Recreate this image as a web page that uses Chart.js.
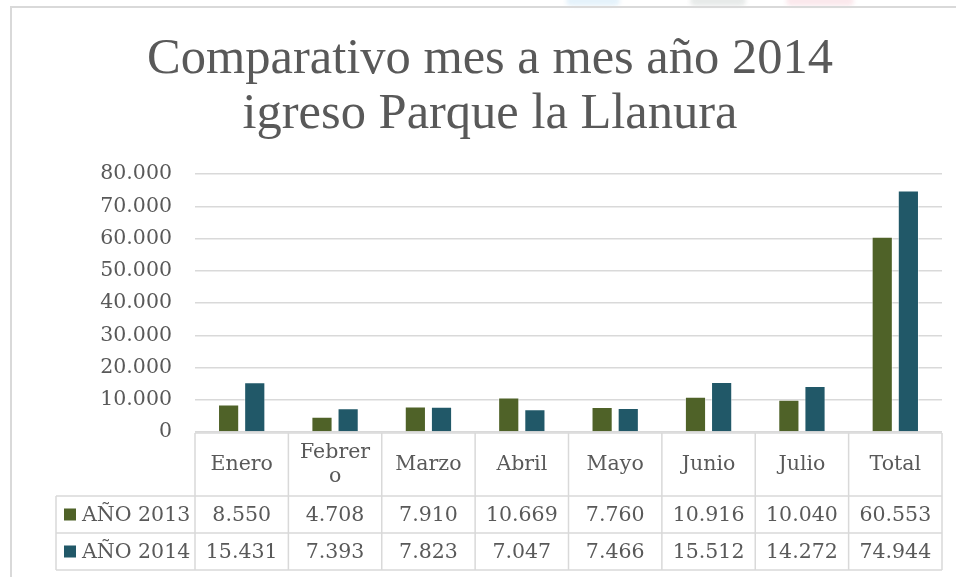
<!DOCTYPE html>
<html>
<head>
<meta charset="utf-8">
<script src="https://cdn.jsdelivr.net/npm/chart.js@4/dist/chart.umd.min.js"></script>
<style>
  html, body { margin: 0; padding: 0; background: #fff; }
  #wrap { position: relative; width: 956px; height: 577px; overflow: hidden; }
  #frame { position: absolute; left: 10px; top: 6px; width: 960px; height: 580px;
           border-top: 2px solid #d9d9d9; border-left: 2px solid #d9d9d9; }
  .blob { position: absolute; top: -4px; height: 10px; border-radius: 6px; filter: blur(2px); }
  canvas { position: absolute; left: 0; top: 0; }
</style>
</head>
<body>
<div id="wrap">
  <div class="blob" style="left:566px;width:54px;background:#e4f2fb"></div>
  <div class="blob" style="left:690px;width:56px;background:#e7eae9"></div>
  <div class="blob" style="left:786px;width:68px;background:#fbe8ec"></div>
  <div id="frame"></div>
  <canvas id="chart" width="956" height="577"></canvas>
</div>
<script>
// data
var categories = ['Enero', ['Febrer', 'o'], 'Marzo', 'Abril', 'Mayo', 'Junio', 'Julio', 'Total'];
var anio2013 = [8550, 4708, 7910, 10669, 7760, 10916, 10040, 60553];
var anio2014 = [15431, 7393, 7823, 7047, 7466, 15512, 14272, 74944];
var seriesNames = ['AÑO 2013', 'AÑO 2014'];
var titleLines = ['Comparativo mes a mes año 2014', 'igreso Parque la Llanura'];

var green = '#4f6228';
var blue = '#215868';
var textColor = '#595959';
var lineColor = '#d9d9d9';
var serif = '"DejaVu Serif", "Liberation Serif", serif';

function fmt(v) {
    return String(v).replace(/\B(?=(\d{3})+(?!\d))/g, '.');
}

// Excel style data table under the plot, laid out from the x scale
var dataTable = {
    id: 'dataTable',
    afterDraw: function(chart) {
        var ctx = chart.ctx;
        var area = chart.chartArea;
        var n = categories.length;
        var cw = (area.right - area.left) / n;
        var legendLeft = 56;
        var y0 = area.bottom + 1, y1 = y0 + 63, y2 = y1 + 37, y3 = y2 + 37;

        ctx.save();
        ctx.strokeStyle = lineColor;
        ctx.lineWidth = 1.5;
        ctx.beginPath();
        ctx.moveTo(area.left, y0); ctx.lineTo(area.right, y0);
        [y1, y2, y3].forEach(function(y) {
            ctx.moveTo(legendLeft, y); ctx.lineTo(area.right, y);
        });
        ctx.moveTo(legendLeft, y1); ctx.lineTo(legendLeft, y3);
        for (var i = 0; i <= n; i++) {
            var bx = area.left + i * cw;
            ctx.moveTo(bx, y0); ctx.lineTo(bx, y3);
        }
        ctx.stroke();

        ctx.fillStyle = textColor;
        ctx.font = '20.5px ' + serif;
        ctx.textAlign = 'center';
        ctx.textBaseline = 'middle';
        var xs = chart.scales.x;
        var rows = [anio2013, anio2014];
        categories.forEach(function(label, i) {
            var cx = xs.getPixelForValue(i);
            var hy = (y0 + y1) / 2;
            if (Array.isArray(label)) {
                ctx.fillText(label[0], cx, hy - 12);
                ctx.fillText(label[1], cx, hy + 12);
            } else {
                ctx.fillText(label, cx, hy);
            }
            ctx.fillText(fmt(rows[0][i]), cx, (y1 + y2) / 2 + 1);
            ctx.fillText(fmt(rows[1][i]), cx, (y2 + y3) / 2 + 1);
        });

        // legend keys in the first column
        ctx.textAlign = 'left';
        [[y1, y2], [y2, y3]].forEach(function(r, k) {
            var cy = (r[0] + r[1]) / 2;
            ctx.fillStyle = k === 0 ? green : blue;
            ctx.fillRect(64, cy - 6, 12, 12);
            ctx.fillStyle = textColor;
            ctx.fillText(seriesNames[k], 82, cy + 1);
        });
        ctx.restore();
    }
};

new Chart(document.getElementById('chart'), {
    type: 'bar',
    data: {
        labels: categories,
        datasets: [
            {
                label: seriesNames[0],
                data: anio2013,
                backgroundColor: green,
                borderColor: 'rgba(255,255,255,0.5)',
                borderWidth: 1,
                categoryPercentage: 0.56,
                barPercentage: 0.81
            },
            {
                label: seriesNames[1],
                data: anio2014,
                backgroundColor: blue,
                borderColor: 'rgba(255,255,255,0.5)',
                borderWidth: 1,
                categoryPercentage: 0.56,
                barPercentage: 0.81
            }
        ]
    },
    options: {
        responsive: false,
        animation: false,
        devicePixelRatio: 1,
        layout: {
            padding: { left: 38, right: 14, top: 0, bottom: 7 }
        },
        plugins: {
            legend: { display: false },
            tooltip: { enabled: false },
            title: {
                display: true,
                text: titleLines,
                color: textColor,
                font: { family: '"Liberation Serif", serif', size: 50.5, weight: 'normal', lineHeight: 1.09 },
                padding: { top: 32, bottom: 32 }
            }
        },
        scales: {
            x: {
                grid: { display: false },
                border: { display: false },
                ticks: { display: false },
                afterFit: function(scale) { scale.height = 138; }
            },
            y: {
                min: 0,
                max: 80000,
                ticks: {
                    stepSize: 10000,
                    color: textColor,
                    padding: 23,
                    font: { family: serif, size: 20.5 },
                    callback: function(v) { return fmt(v); }
                },
                grid: { color: lineColor, lineWidth: 1.5, drawTicks: false },
                border: { display: false },
                afterFit: function(scale) { scale.width = 157; }
            }
        }
    },
    plugins: [dataTable]
});
</script>
</body>
</html>
